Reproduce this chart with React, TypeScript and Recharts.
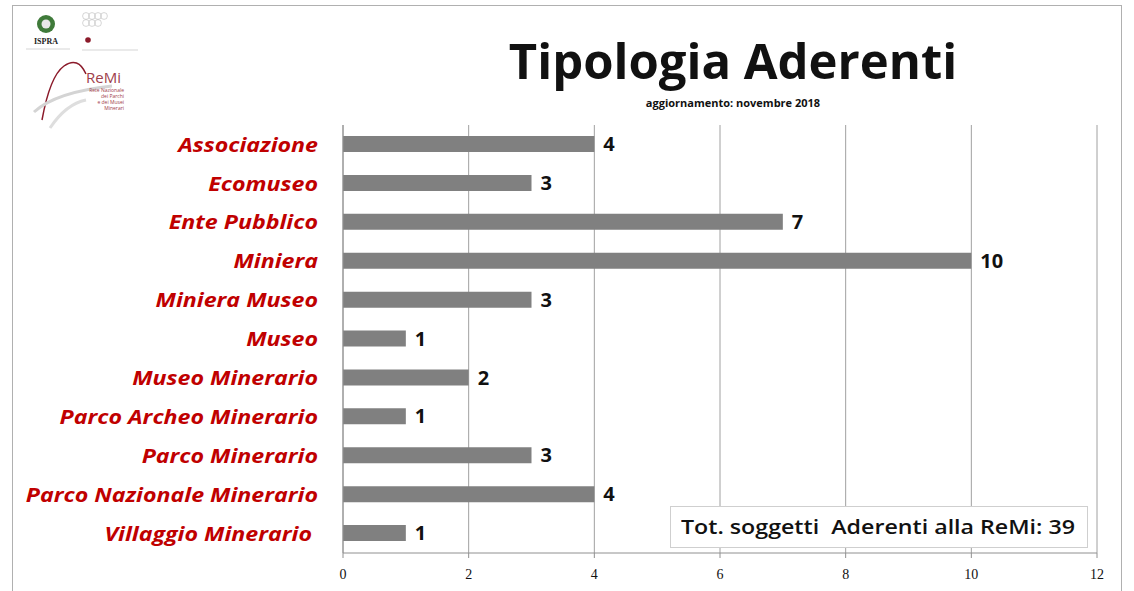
import { Bar, BarChart, CartesianGrid, LabelList, XAxis, YAxis } from 'recharts'

const categories = [
  'Associazione',
  'Ecomuseo',
  'Ente Pubblico',
  'Miniera',
  'Miniera Museo',
  'Museo',
  'Museo Minerario',
  'Parco Archeo Minerario',
  'Parco Minerario',
  'Parco Nazionale Minerario',
  'Villaggio Minerario ',
]
const aderenti = [4, 3, 7, 10, 3, 1, 2, 1, 3, 4, 1]
const xTicks = [0, 2, 4, 6, 8, 10, 12]

const title = 'Tipologia Aderenti'
const subtitle = 'aggiornamento: novembre 2018'
const totale = 'Tot. soggetti  Aderenti alla ReMi: 39'

const data = categories.map((name, i) => ({ name, value: aderenti[i] }))

const FONT = '"Open Sans", Lato, sans-serif'
// il riferimento ha i testi un po' allargati in orizzontale
const STRETCH = 1.16

function CategoryTick(props: any) {
  const { y, payload } = props
  return (
    <g transform={`translate(318,${y}) scale(${STRETCH},1)`}>
      <text
        x={0}
        y={0}
        dy="0.36em"
        textAnchor="end"
        fill="#C00000"
        fontFamily={FONT}
        fontWeight="bold"
        fontStyle="italic"
        fontSize={20}
        style={{ whiteSpace: 'pre' }}
      >
        {payload.value}
      </text>
    </g>
  )
}

function Logo() {
  return (
    <svg width={130} height={125} style={{ position: 'absolute', left: 20, top: 8 }}>
      {/* emblema */}
      <circle cx={26} cy={16} r={9} fill="#3f7a3a" />
      <circle cx={26} cy={16} r={4.5} fill="#e8e8e8" />
      <text x={26} y={36} textAnchor="middle" fontFamily="Liberation Serif, serif" fontWeight="bold" fontSize={8} fill="#222">
        ISPRA
      </text>
      <line x1={6} y1={41} x2={50} y2={41} stroke="#aaa" strokeWidth={0.5} />
      {/* cerchi */}
      {[0, 1, 2, 3, 4, 5, 6].map((i) => (
        <circle key={i} cx={66 + (i % 4) * 6} cy={8 + Math.floor(i / 4) * 7} r={3.4} fill="none" stroke="#bbb" strokeWidth={0.6} />
      ))}
      <circle cx={68} cy={32} r={2.8} fill="#8b1a2a" />
      <line x1={62} y1={42} x2={118} y2={42} stroke="#aaa" strokeWidth={0.5} />
      {/* ReMi */}
      <path d="M22 112 Q30 68 44 58 Q58 48 66 66" fill="none" stroke="#8b1a2a" strokeWidth={1.5} />
      <path d="M14 104 Q36 84 92 78" fill="none" stroke="#d4d4d4" strokeWidth={3} />
      <path d="M30 120 Q46 96 66 92" fill="none" stroke="#dedede" strokeWidth={3} />
      <text x={66} y={75} fontFamily={FONT} fontSize={15} fill="#a0404a">
        ReMi
      </text>
      <text x={104} y={84} textAnchor="end" fontFamily={FONT} fontSize={5} fill="#a0404a">
        Rete Nazionale
      </text>
      <text x={104} y={90} textAnchor="end" fontFamily={FONT} fontSize={5} fill="#a0404a">
        dei Parchi
      </text>
      <text x={104} y={96} textAnchor="end" fontFamily={FONT} fontSize={5} fill="#a0404a">
        e dei Musei
      </text>
      <text x={104} y={102} textAnchor="end" fontFamily={FONT} fontSize={5} fill="#a0404a">
        Minerari
      </text>
    </svg>
  )
}

export default function App() {
  return (
    <div
      style={{
        position: 'absolute',
        left: 0,
        top: 0,
        width: 1134,
        height: 591,
        overflow: 'hidden',
        background: '#fff',
        fontFamily: FONT,
      }}
    >
      <div
        style={{
          position: 'absolute',
          left: 12,
          top: 5,
          width: 1108,
          height: 620,
          borderTop: '1px solid #b0b0b0',
          borderLeft: '1px solid #b0b0b0',
          borderRight: '1px solid #b0b0b0',
        }}
      />
      <Logo />
      <div
        style={{
          position: 'absolute',
          left: 333,
          width: 800,
          top: 30,
          textAlign: 'center',
          fontSize: 49,
          fontWeight: 'bold',
          color: '#111',
          lineHeight: '60px',
        }}
      >
        {title}
      </div>
      <div
        style={{
          position: 'absolute',
          left: 333,
          width: 800,
          top: 95,
          textAlign: 'center',
          fontSize: 11,
          fontWeight: 'bold',
          color: '#111',
        }}
      >
        {subtitle}
      </div>
      <div style={{ position: 'absolute', left: 0, top: 0 }}>
        <BarChart
          width={1134}
          height={591}
          layout="vertical"
          data={data}
          margin={{ top: 125, right: 37, bottom: 0, left: 0 }}
        >
          <CartesianGrid horizontal={false} stroke="#a0a0a0" />
          <XAxis
            type="number"
            domain={[0, 12]}
            ticks={xTicks}
            height={38}
            axisLine={{ stroke: '#909090' }}
            tickLine={{ stroke: '#909090' }}
            tickSize={5}
            tickMargin={11}
            tick={{ fill: '#111', fontSize: 14, fontFamily: '"Liberation Serif", serif' }}
          />
          <YAxis
            type="category"
            dataKey="name"
            width={343}
            axisLine={{ stroke: '#909090' }}
            tickLine={false}
            tick={<CategoryTick />}
            interval={0}
          />
          <Bar dataKey="value" fill="#808080" barSize={16} isAnimationActive={false}>
            <LabelList
              dataKey="value"
              position="right"
              offset={9}
              fill="#111"
              fontSize={20}
              fontWeight="bold"
              fontFamily={FONT}
            />
          </Bar>
        </BarChart>
      </div>
      <div
        style={{
          position: 'absolute',
          left: 670,
          top: 506,
          width: 418,
          height: 42,
          boxSizing: 'border-box',
          border: '1px solid #cfcfcf',
          background: '#fff',
          color: '#111',
        }}
      >
        <div
          style={{
            position: 'absolute',
            left: 10,
            top: 0,
            fontSize: 20,
            fontWeight: 600,
            lineHeight: '40px',
            whiteSpace: 'pre',
            transform: `scaleX(${STRETCH})`,
            transformOrigin: 'left center',
          }}
        >
          {totale}
        </div>
      </div>
    </div>
  )
}
